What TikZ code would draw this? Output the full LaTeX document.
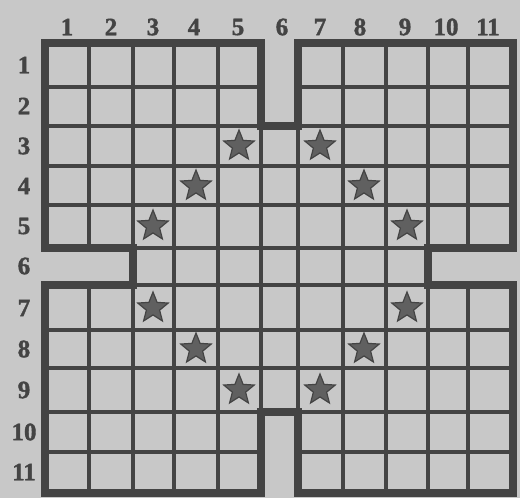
\documentclass[tikz,border=0pt]{standalone}
\usepackage{fontspec}
\newfontfamily\labfont[FakeBold=1.5]{Liberation Serif Bold}
\usetikzlibrary{shapes.geometric}
\definecolor{paper}{HTML}{C8C8C8}
\definecolor{ink}{HTML}{444444}
\begin{document}
\begin{tikzpicture}[x=1pt,y=-1pt,
  gridline/.style={draw=ink,line width=4.5pt},
  border/.style={draw=ink,line width=7.5pt,line join=miter},
  starmark/.style={star,star points=5,star point ratio=2.3,minimum size=32pt,inner sep=0pt,fill=ink!85,draw=ink,line width=1.2pt},
  lab/.style={font=\labfont\fontsize{25}{25}\selectfont,text=ink,inner sep=0pt}]
\fill[paper] (0,0) rectangle (520,498);
\useasboundingbox (0,0) rectangle (520,498);
\def\outline{(45,43) -- (261,43) -- (261,126) -- (298,126) -- (298,43) -- (513,43) -- (513,248) -- (428,248) -- (428,285) -- (513,285) -- (513,493) -- (298,493) -- (298,412) -- (261,412) -- (261,493) -- (45,493) -- (45,285) -- (133,285) -- (133,248) -- (45,248) -- cycle}
\begin{scope}
  \clip \outline;
  \foreach \x in {89,133,174,218,261,298,343,386,428,468}
    \draw[gridline] (\x,43) -- (\x,493);
  \foreach \y in {87,126,166,205,248,285,330,368,412,452}
    \draw[gridline] (45,\y) -- (513,\y);
\end{scope}
\draw[border] \outline;
% column labels
\foreach \c/\n in {67/1,111/2,153/3,194/4,238/5,282/6,320/7,360/8,405/9,446/10,488/11}
  \node[lab] (c\n) at (\c,27) {\n};
% row labels
\foreach \r/\n in {65/1,106/2,146/3,186/4,226/5,266/6,308/7,349/8,390/9,432/10,472/11}
  \node[lab] (r\n) at (24,\r) {\n};
% stars
\foreach \x/\y/\k in {239/146/a,320/146/b,196/186/c,364/186/d,153/226/e,407/226/f,153/308/g,407/308/h,196/349/i,364/349/j,239/390/k,320/390/l}
  \node[starmark] (s\k) at (\x,\y) {};
\end{tikzpicture}
\end{document}
